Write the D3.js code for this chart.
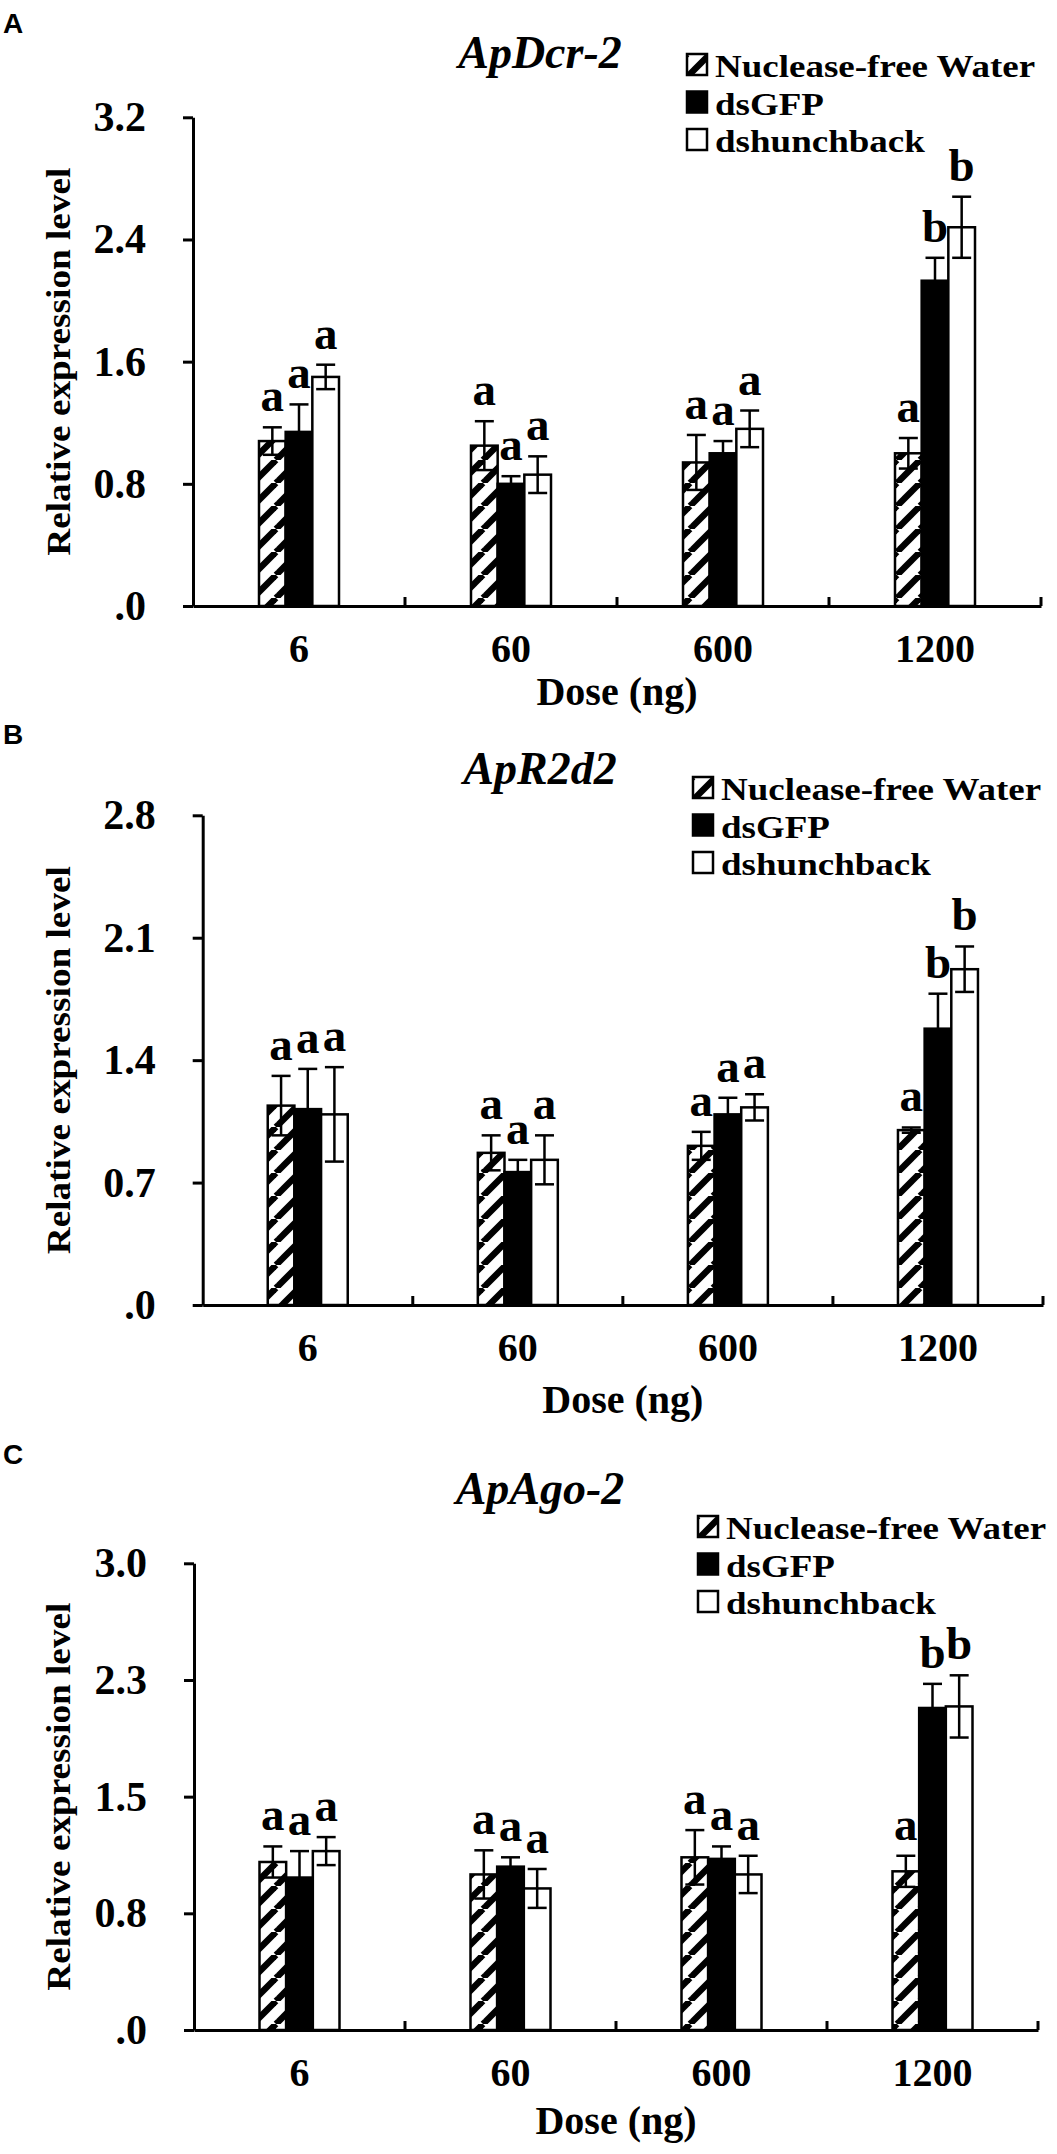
<!DOCTYPE html>
<html>
<head>
<meta charset="utf-8">
<script src="https://cdn.jsdelivr.net/npm/d3@7"></script>
<style>
    html, body { margin: 0; padding: 0; background: #fff; }
    svg text { font-family: "Liberation Serif", "Times New Roman", serif; font-weight: bold; fill: #000; }
</style>
</head>
<body>
<svg id="figure" width="1057" height="2154"></svg>
<script>
// Doses and treatments (shared by the three panels)
const doses = ["6", "60", "600", "1200"];
const treatments = ["Nuclease-free Water", "dsGFP", "dshunchback"];
const genes = ["ApDcr-2", "ApR2d2", "ApAgo-2"];
const panelTags = ["A", "B", "C"];
const yMaxes = [3.2, 2.8, 3.0];
const yTickSteps = [0.8, 0.7, 0.75];

// Relative expression, one row per treatment, one column per dose
const dcr2Means  = [[1.08, 1.05, 0.94, 1.00], [1.14, 0.80, 1.00, 2.13], [1.50, 0.86, 1.16, 2.48]];
const dcr2Errors = [[0.09, 0.16, 0.18, 0.10], [0.18, 0.05, 0.08, 0.15], [0.08, 0.12, 0.12, 0.20]];
const dcr2Letters = [["a", "a", "a", "a"], ["a", "a", "a", "b"], ["a", "a", "a", "b"]];

const r2d2Means  = [[1.14, 0.87, 0.91, 1.00], [1.12, 0.76, 1.09, 1.58], [1.09, 0.83, 1.13, 1.92]];
const r2d2Errors = [[0.17, 0.10, 0.08, 0.015], [0.23, 0.07, 0.095, 0.20], [0.27, 0.14, 0.075, 0.13]];
const r2d2Letters = [["a", "a", "a", "a"], ["a", "a", "a", "b"], ["a", "a", "a", "b"]];

const ago2Means  = [[1.08, 1.00, 1.11, 1.02], [0.98, 1.05, 1.10, 2.07], [1.15, 0.91, 1.00, 2.08]];
const ago2Errors = [[0.10, 0.155, 0.175, 0.10], [0.17, 0.06, 0.08, 0.155], [0.09, 0.125, 0.12, 0.20]];
const ago2Letters = [["a", "a", "a", "a"], ["a", "a", "a", "b"], ["a", "a", "a", "b"]];

const allMeans = [dcr2Means, r2d2Means, ago2Means];
const allErrors = [dcr2Errors, r2d2Errors, ago2Errors];
const allLetters = [dcr2Letters, r2d2Letters, ago2Letters];

// Where each panel sits on the page
const layouts = [
    { left: 193, right: 1041, top: 117.3, bottom: 606, tagY: 33, titleY: 68, legX: 687, legY: 77, doseY: 705 },
    { left: 202.7, right: 1043, top: 815.3, bottom: 1305, tagY: 744, titleY: 784, legX: 693, legY: 800, doseY: 1413 },
    { left: 194, right: 1038, top: 1563.3, bottom: 2030, tagY: 1464, titleY: 1504, legX: 698, legY: 1539, doseY: 2134 }
];

const svg = d3.select('#figure');
svg.append('rect').attr('width', 1057).attr('height', 2154).attr('fill', '#fff');

// Diagonal hatch for the water control
const pat = svg.append('defs').append('pattern')
    .attr('id', 'hatch')
    .attr('patternUnits', 'userSpaceOnUse')
    .attr('width', 23)
    .attr('height', 23);
pat.append('rect').attr('width', 23).attr('height', 23).attr('fill', '#fff');
[[0, 23, 23, 0], [-23, 23, 0, 0], [23, 23, 46, 0]].forEach(c => {
    pat.append('line')
        .attr('x1', c[0]).attr('y1', c[1]).attr('x2', c[2]).attr('y2', c[3])
        .attr('stroke', '#000').attr('stroke-width', 6.5);
});

const fills = ['url(#hatch)', '#000', '#fff'];

function drawPanel(p) {
    const L = layouts[p];
    const means = allMeans[p];
    const errors = allErrors[p];
    const letters = allLetters[p];

    const y = d3.scaleLinear().domain([0, yMaxes[p]]).range([L.bottom, L.top]);
    const x = d3.scaleBand().domain(doses).range([L.left, L.right]);
    const xIn = d3.scaleBand().domain(treatments).range([-40, 40]);

    const g = svg.append('g');

    // panel tag
    g.append('text')
        .attr('x', 3).attr('y', L.tagY)
        .style('font-family', '"Liberation Sans", Arial, sans-serif')
        .style('font-size', '28px')
        .text(panelTags[p]);

    // gene title
    g.append('text')
        .attr('x', 540).attr('y', L.titleY)
        .attr('text-anchor', 'middle')
        .style('font-size', '46px')
        .style('font-style', 'italic')
        .text(genes[p]);

    // flat records for the bars
    const rows = [];
    treatments.forEach((t, i) => {
        doses.forEach((d, j) => {
            rows.push({ t: t, i: i, d: d, v: means[i][j], e: errors[i][j], lab: letters[i][j] });
        });
    });

    const barX = r => x(r.d) + x.bandwidth() / 2 + xIn(r.t);

    g.selectAll('.bar')
        .data(rows)
        .enter()
        .append('rect')
        .attr('class', 'bar')
        .attr('x', barX)
        .attr('y', r => y(r.v))
        .attr('width', xIn.bandwidth())
        .attr('height', r => y(0) - y(r.v))
        .attr('fill', r => fills[r.i])
        .attr('stroke', '#000')
        .attr('stroke-width', 2.5);

    // error bars
    const err = g.selectAll('.err')
        .data(rows)
        .enter()
        .append('g')
        .attr('class', 'err')
        .attr('transform', r => `translate(${barX(r) + xIn.bandwidth() / 2},0)`);
    err.append('line')
        .attr('y1', r => y(r.v - r.e)).attr('y2', r => y(r.v + r.e))
        .attr('stroke', '#000').attr('stroke-width', 2.5);
    err.append('line')
        .attr('x1', -9.5).attr('x2', 9.5)
        .attr('y1', r => y(r.v + r.e)).attr('y2', r => y(r.v + r.e))
        .attr('stroke', '#000').attr('stroke-width', 2.5);
    err.append('line')
        .attr('x1', -9.5).attr('x2', 9.5)
        .attr('y1', r => y(r.v - r.e)).attr('y2', r => y(r.v - r.e))
        .attr('stroke', '#000').attr('stroke-width', 2.5);

    // significance letters
    g.selectAll('.sig')
        .data(rows)
        .enter()
        .append('text')
        .attr('class', 'sig')
        .attr('x', r => barX(r) + xIn.bandwidth() / 2)
        .attr('y', r => y(r.v + r.e) - 16)
        .attr('text-anchor', 'middle')
        .style('font-size', '47px')
        .text(r => r.lab);

    // y axis
    const ticks = d3.range(0, yMaxes[p] + yTickSteps[p] / 2, yTickSteps[p]);
    const yAxis = g.append('g')
        .attr('transform', `translate(${L.left},0)`)
        .call(d3.axisLeft(y)
            .tickValues(ticks)
            .tickSize(10)
            .tickSizeOuter(0)
            .tickPadding(37)
            .tickFormat(v => v === 0 ? '.0' : v.toFixed(1)));
    yAxis.select('.domain').attr('stroke-width', 3);
    yAxis.selectAll('.tick line').attr('stroke-width', 3);
    yAxis.selectAll('.tick text').style('font-size', '42px');

    // x axis
    const xAxis = g.append('g')
        .attr('transform', `translate(0,${L.bottom})`)
        .call(d3.axisBottom(x).tickSize(0).tickSizeOuter(0).tickPadding(28));
    xAxis.select('.domain').attr('stroke-width', 3);
    xAxis.selectAll('.tick text').style('font-size', '40px');

    g.selectAll('.xtick')
        .data(doses)
        .enter()
        .append('line')
        .attr('class', 'xtick')
        .attr('x1', d => x(d) + x.bandwidth())
        .attr('x2', d => x(d) + x.bandwidth())
        .attr('y1', L.bottom)
        .attr('y2', L.bottom - 9)
        .attr('stroke', '#000')
        .attr('stroke-width', 3);

    // axis titles
    g.append('text')
        .attr('x', (L.left + L.right) / 2)
        .attr('y', L.doseY)
        .attr('text-anchor', 'middle')
        .style('font-size', '40px')
        .text('Dose (ng)');

    g.append('text')
        .attr('transform', `translate(70,${(L.top + L.bottom) / 2}) rotate(-90)`)
        .attr('text-anchor', 'middle')
        .attr('textLength', 388)
        .attr('lengthAdjust', 'spacingAndGlyphs')
        .style('font-size', '33px')
        .text('Relative expression level');

    // legend (rows sit close together, so a slightly smaller font is stretched to full width)
    const leg = g.selectAll('.leg')
        .data(treatments)
        .enter()
        .append('g')
        .attr('class', 'leg')
        .attr('transform', (t, i) => `translate(${L.legX},${L.legY + i * 37.5})`);
    leg.append('rect')
        .attr('x', 0).attr('y', -23)
        .attr('width', 20).attr('height', 21)
        .attr('fill', (t, i) => fills[i])
        .attr('stroke', '#000')
        .attr('stroke-width', 2.5);
    leg.append('text')
        .attr('x', 28).attr('y', 0)
        .style('font-size', '32px')
        .text(t => t)
        .each(function() {
            const w = this.getComputedTextLength();
            d3.select(this)
                .attr('textLength', w * 37 / 32)
                .attr('lengthAdjust', 'spacingAndGlyphs');
        });
}

genes.forEach((gene, p) => drawPanel(p));
</script>
</body>
</html>
